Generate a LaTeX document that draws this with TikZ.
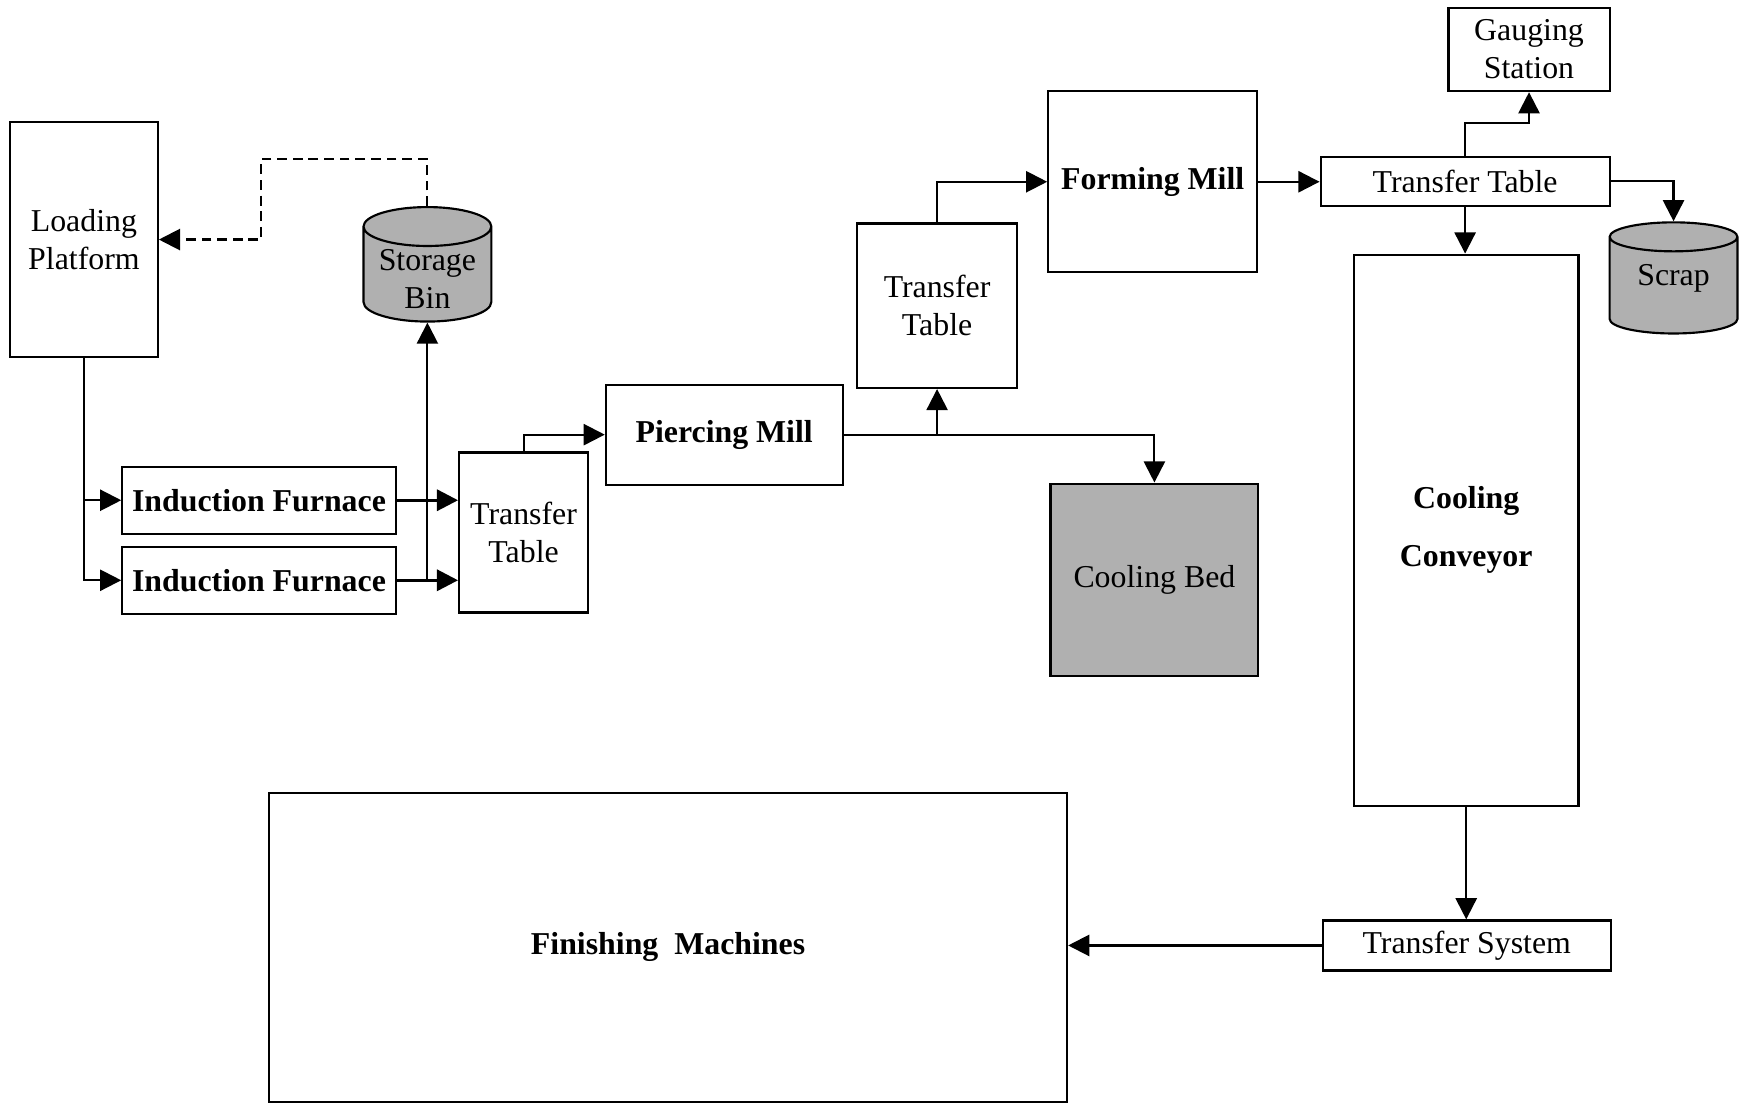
\documentclass[tikz,border=0pt]{standalone}
\usepackage{fontspec}
\setmainfont{Liberation Serif}
\usetikzlibrary{arrows.meta, shapes.geometric, positioning}

\begin{document}
\begin{tikzpicture}[
  x=0.02cm, y=-0.02cm,
  box/.style={
    draw=black,
    line width=1.1pt,
    fill=white,
    align=center,
    inner sep=0pt,
    font=\fontsize{16.3}{19.4}\selectfont
  },
  bbox/.style={
    box,
    font=\fontsize{16.3}{19.4}\selectfont\bfseries
  },
  bin/.style={
    box,
    cylinder,
    shape border rotate=90,
    aspect=0.4,
    fill=gray!62
  },
  arrow/.style={-{Triangle[length=0.38cm, width=0.38cm]}, line width=1.1pt}
]

\useasboundingbox (0,0) rectangle (1568,992);

\node[box, minimum width=2.66cm, minimum height=4.22cm] (LP) at (75.5,215.5)
  {Loading\\ Platform};

\node[bin, minimum width=2.3cm, minimum height=2.06cm] (SB) at (384.5,247)
  {\raisebox{-0.28cm}[0pt][0pt]{\begin{tabular}{@{}c@{}}Storage\\ Bin\end{tabular}}};

\node[bbox, minimum width=4.92cm, minimum height=1.2cm] (IF1) at (233,450)
  {Induction Furnace};

\node[bbox, minimum width=4.92cm, minimum height=1.2cm] (IF2) at (233,522)
  {Induction Furnace};

\node[box, minimum width=2.32cm, minimum height=2.88cm] (TT1) at (471,479)
  {Transfer\\ Table};

\node[bbox, minimum width=4.26cm, minimum height=1.8cm] (PM) at (651.5,391)
  {Piercing Mill};

\node[box, minimum width=2.88cm, minimum height=2.96cm] (TT2) at (843,275)
  {Transfer\\ Table};

\node[bbox, minimum width=3.76cm, minimum height=3.26cm] (FM) at (1037,163.5)
  {Forming Mill};

\node[box, fill=gray!62, minimum width=3.74cm, minimum height=3.46cm] (CB) at (1038.5,521.5)
  {Cooling Bed};

\node[box, minimum width=5.2cm, minimum height=0.88cm] (TT3) at (1318,163)
  {Transfer Table};

\node[box, minimum width=2.9cm, minimum height=1.5cm] (GS) at (1375.5,44.5)
  {Gauging\\ Station};

\node[bin, minimum width=2.3cm, minimum height=2.0cm] (SC) at (1505.5,257)
  {\smash{Scrap}};

\node[bbox, minimum width=4.04cm, minimum height=9.92cm] (CC) at (1319,477)
  {Cooling\\[0.36cm] Conveyor};

\node[box, minimum width=5.18cm, minimum height=0.9cm] (TS) at (1319.5,850.5)
  {Transfer System};

\node[bbox, minimum width=14.36cm, minimum height=5.56cm] (FIN) at (601,852)
  {Finishing\ \ Machines};

% return of the billets from storage
\coordinate (ret) at (235,143);
\draw[arrow, dash pattern=on 5pt off 3pt] (SB.north) |- (ret) |- (LP.east);

% loading to the furnaces
\draw[arrow] (LP.south) |- (IF2.west);
\draw[arrow] (LP.south |- IF1.west) -- (IF1.west);
\draw[arrow, line width=1.6pt] (IF1.east) -- (IF1.east -| TT1.west);
\draw[arrow, line width=1.6pt] (IF2.east) -- (IF2.east -| TT1.west);
\draw[arrow] (IF2.east -| SB.south) -- (SB.south);

% piercing and forming
\draw[arrow] (TT1.north) |- (PM.west);
\draw[arrow] (PM.east) -| (CB.north);
\draw[arrow] (PM.east -| TT2.south) -- (TT2.south);
\draw[arrow] (TT2.north) |- (FM.west);
\draw[arrow] (FM.east) -- (FM.east -| TT3.west);

% after the forming mill
\coordinate (gauge) at (1376,111);
\draw[arrow] (TT3.north) -- (TT3.north |- gauge) -| (GS.south);
\draw[arrow] (TT3.east) -| (SC.north);
\draw[arrow] (TT3.south) -- (TT3.south |- CC.north);
\draw[arrow] (CC.south) -- (CC.south |- TS.north);
\draw[arrow] (TS.west) -- (TS.west -| FIN.east);

\end{tikzpicture}
\end{document}
